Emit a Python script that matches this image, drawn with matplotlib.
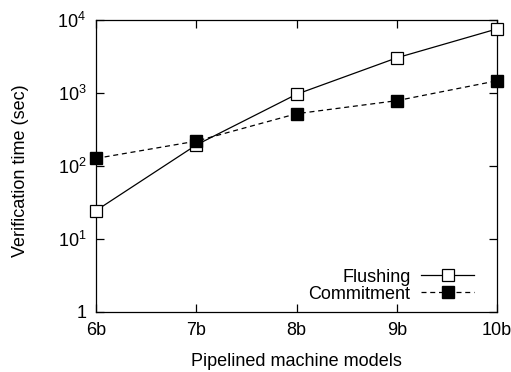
import numpy as np
import matplotlib
matplotlib.use("Agg")
import matplotlib.pyplot as plt
from matplotlib.ticker import FixedLocator, NullLocator

# data
models = ["6b", "7b", "8b", "9b", "10b"]
flushing = [24.5, 194, 960, 3030, 7550]
commitment = [127, 219, 520, 785, 1470]
ytick_vals = [1, 10, 100, 1000, 10000]
ytick_labels = ["1", "$10^{1}$", "$10^{2}$", "$10^{3}$", "$10^{4}$"]

plt.rcParams["font.family"] = ["Liberation Sans", "DejaVu Sans"]
plt.rcParams["mathtext.fontset"] = "custom"
plt.rcParams["mathtext.rm"] = "Liberation Sans"
plt.rcParams["mathtext.it"] = "Liberation Sans"

fig = plt.figure(figsize=(5.11, 3.72), dpi=100)
ax = fig.add_axes([96 / 511, 1 - 312 / 372, (497 - 96) / 511, (312 - 20) / 372])

x = np.arange(len(models))
ax.plot(x, flushing, color="black", lw=0.9, marker="s", markersize=9,
        markerfacecolor="white", markeredgecolor="black", markeredgewidth=0.9,
        label="Flushing", clip_on=False, zorder=3)
ax.plot(x, commitment, color="black", lw=0.9, ls=(0, (4, 3)), marker="s",
        markersize=9, markerfacecolor="black", markeredgecolor="black",
        label="Commitment", clip_on=False, zorder=3)

ax.set_yscale("log")
ax.set_ylim(1, 10000)
ax.set_xlim(0, len(models) - 1)
ax.yaxis.set_major_locator(FixedLocator(ytick_vals))
ax.yaxis.set_minor_locator(NullLocator())
ax.set_yticklabels(ytick_labels)
ax.set_xticks(x)
ax.set_xticklabels(models)

ax.tick_params(direction="in", length=6, width=0.9, top=True, right=True,
               labelsize=13, pad=7)
for s in ax.spines.values():
    s.set_linewidth(0.9)

ax.set_xlabel("Pipelined machine models", fontsize=13, labelpad=10)
ax.set_ylabel("Verification time (sec)", fontsize=13)
ax.yaxis.set_label_coords(-0.168, 0.483)

ax.legend(loc="lower right", bbox_to_anchor=(0.96, 0.007), frameon=False,
          markerfirst=False, fontsize=13, handlelength=2.9, borderaxespad=0,
          labelspacing=0.0, handletextpad=0.6)

fig.savefig("out.png", dpi=100)
